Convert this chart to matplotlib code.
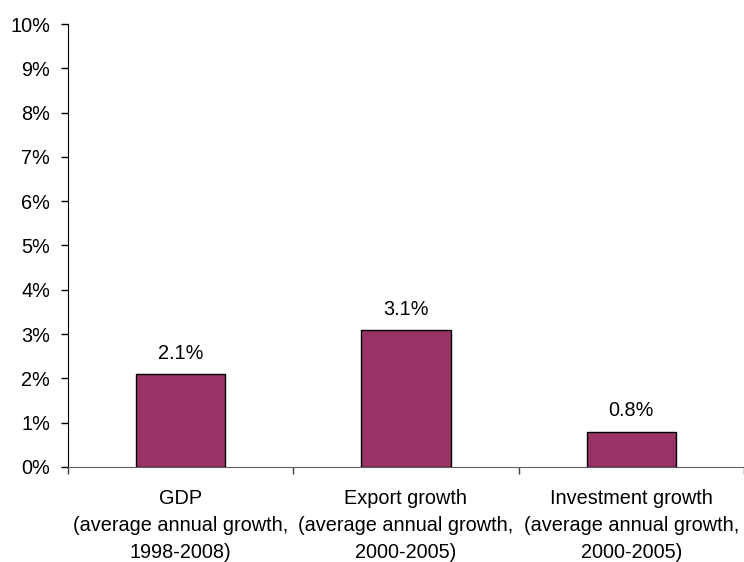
import matplotlib.pyplot as plt
from matplotlib.ticker import FuncFormatter, FixedLocator

plt.rcParams['font.family'] = ['Liberation Sans', 'DejaVu Sans']

# данные
categories = ['GDP\n(average annual growth,\n1998-2008)',
              'Export growth\n(average annual growth,\n2000-2005)',
              'Investment growth\n(average annual growth,\n2000-2005)']
values = [2.1, 3.1, 0.8]
value_labels = ['2.1%', '3.1%', '0.8%']

fs = 14.3

fig = plt.figure(figsize=(7.44, 5.62), dpi=100)
ax = fig.add_axes([68 / 744, 1 - 467 / 562, 1 - 68 / 744, (467 - 24) / 562])

x = range(len(values))
bars = ax.bar(x, values, width=0.395, color='#993366', edgecolor='black', linewidth=1.0, zorder=3)

for b, lab in zip(bars, value_labels):
    ax.annotate(lab, (b.get_x() + b.get_width() / 2, b.get_height()),
                xytext=(0, 8), textcoords='offset points',
                ha='center', va='bottom', fontsize=fs)

ax.set_xlim(-0.5, 2.5)
ax.set_ylim(0, 10)
ax.set_yticks(range(0, 11))
ax.yaxis.set_major_formatter(FuncFormatter(lambda v, p: f'{int(v)}%'))

ax.set_xticks(list(x))
ax.set_xticklabels(categories, fontsize=fs, linespacing=1.52)
ax.xaxis.set_minor_locator(FixedLocator([-0.5, 0.5, 1.5, 2.5]))
ax.tick_params(axis='x', which='major', length=0, pad=16)
ax.tick_params(axis='x', which='minor', length=5, width=1, color='#404040', direction='out')
ax.tick_params(axis='y', length=5, width=1, direction='out', pad=8, labelsize=fs)

for s in ['top', 'right']:
    ax.spines[s].set_visible(False)
ax.spines['bottom'].set_color('#606060')
ax.spines['left'].set_color('black')

fig.savefig('out.png', dpi=100)
